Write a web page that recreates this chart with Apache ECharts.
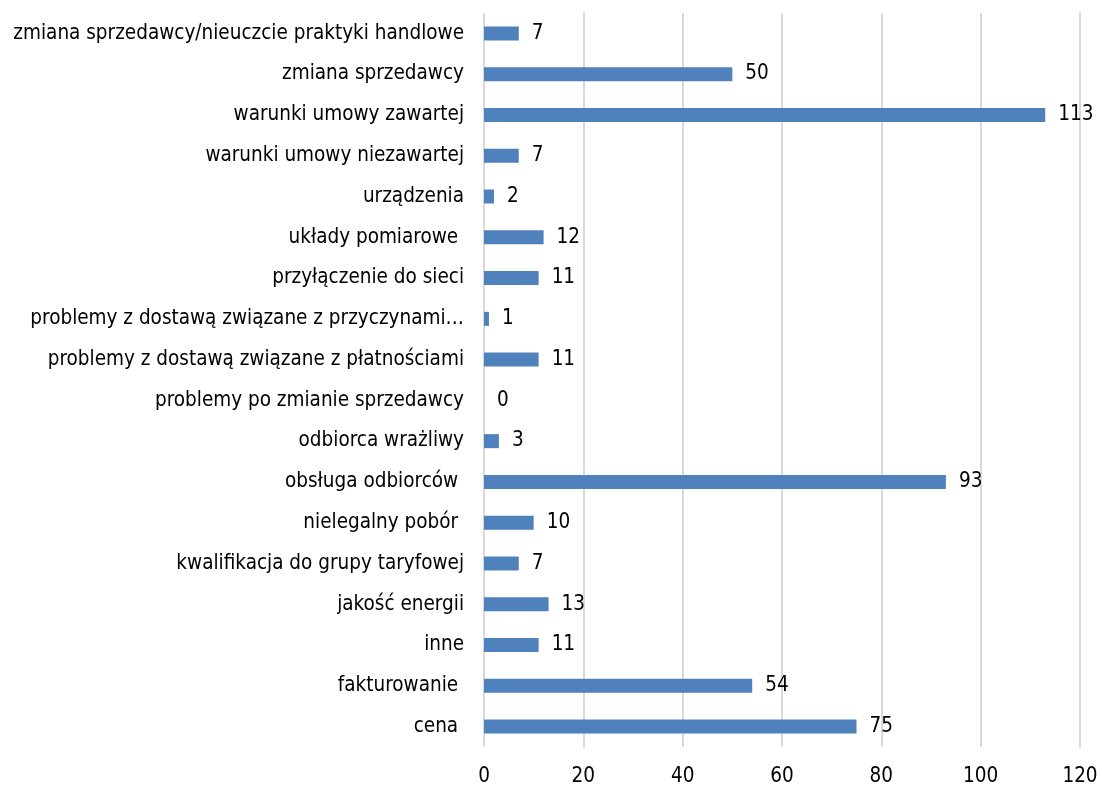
<!DOCTYPE html>
<html>
<head>
<meta charset="utf-8">
<style>
  html, body { margin: 0; padding: 0; background: #ffffff; }
  #chart { width: 1102px; height: 787px; }
</style>
<script src="https://cdn.jsdelivr.net/npm/echarts@6/dist/echarts.min.js"></script>
</head>
<body>
<div id="chart"></div>
<script>
// Complaint categories, listed from the bottom of the chart to the top
const categories = [
  'cena ',
  'fakturowanie ',
  'inne',
  'jakość energii',
  'kwalifikacja do grupy taryfowej',
  'nielegalny pobór ',
  'obsługa odbiorców ',
  'odbiorca wrażliwy',
  'problemy po zmianie sprzedawcy',
  'problemy z dostawą związane z płatnościami',
  'problemy z dostawą związane z przyczynami…',
  'przyłączenie do sieci',
  'układy pomiarowe ',
  'urządzenia',
  'warunki umowy niezawartej',
  'warunki umowy zawartej',
  'zmiana sprzedawcy',
  'zmiana sprzedawcy/nieuczcie praktyki handlowe'
];

// Number of cases per category
const counts = [75, 54, 11, 13, 7, 10, 93, 3, 0, 11, 1, 11, 12, 2, 7, 113, 50, 7];

// Value axis range and step
const axisMin = 0;
const axisMax = 120;
const axisStep = 20;

const FONT = '"DejaVu Sans Condensed", "DejaVu Sans", sans-serif';
const FONT_SIZE = 20.5;

const chart = echarts.init(document.getElementById('chart'), null, { renderer: 'canvas' });

chart.setOption({
  animation: false,
  backgroundColor: '#ffffff',
  grid: { left: 484, right: 22, top: 13, bottom: 39, containLabel: false },
  xAxis: {
    type: 'value',
    min: axisMin,
    max: axisMax,
    interval: axisStep,
    axisLine: { show: false },
    axisTick: { show: false },
    splitLine: { show: true, lineStyle: { color: '#d9d9d9', width: 2 } },
    axisLabel: { color: '#000000', fontFamily: FONT, fontSize: FONT_SIZE, margin: 19 }
  },
  yAxis: {
    type: 'category',
    data: categories,
    axisLine: { show: false },
    axisTick: { show: false },
    splitLine: { show: false },
    axisLabel: {
      color: '#000000', fontFamily: FONT, fontSize: FONT_SIZE, margin: 20,
      padding: [4, 0, 0, 0]
    }
  },
  series: [{
    type: 'bar',
    data: counts,
    barWidth: 14,
    itemStyle: { color: '#4f81bd' },
    label: {
      show: true,
      position: 'right',
      distance: 13,
      color: '#000000',
      fontFamily: FONT,
      fontSize: FONT_SIZE,
      padding: [4, 0, 0, 0]
    }
  }]
});
</script>
</body>
</html>
